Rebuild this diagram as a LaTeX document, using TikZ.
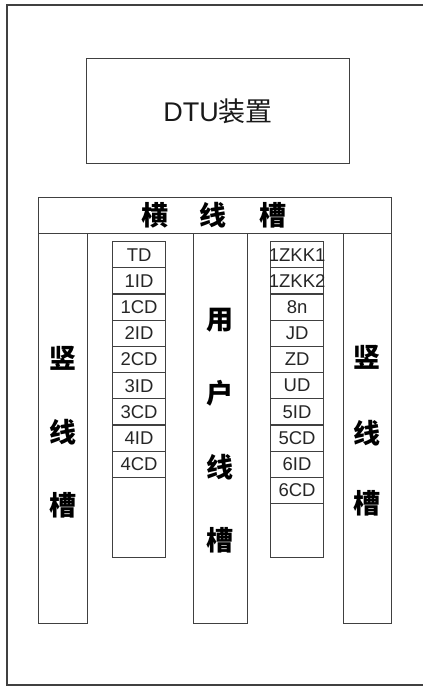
\documentclass[tikz,border=0pt]{standalone}
\usepackage{fontspec}
\setmainfont{Liberation Sans}
\newfontfamily\cjk{Noto Sans CJK SC}
\begin{document}
\begin{tikzpicture}[x=1pt,y=-1pt,
  line/.style={draw=black!75, line width=1.2pt},
  box/.style={line, rectangle, inner sep=0pt, anchor=north west},
  cell/.style={box, minimum width=53pt, minimum height=26.2pt, font=\fontsize{18.5}{18.5}\selectfont, text=black!85},
  slot/.style={font=\cjk\bfseries\fontsize{27}{27}\selectfont, inner sep=0pt}]
\useasboundingbox (0,0) rectangle (423,686);
% outer frame (open on the right)
\coordinate (tr) at (423,5);
\coordinate (tl) at (7,5);
\coordinate (bl) at (7,685);
\coordinate (br) at (423,685);
\draw[line] (tr) -- (tl) -- (bl) -- (br);
% DTU device
\node[box, minimum width=263pt, minimum height=105pt, font=\fontsize{27}{27}\selectfont, text=black!90] (dtu) at (86,58) {DTU{\cjk 装置}};
% horizontal trough
\node[box, minimum width=353pt, minimum height=36pt] (htrough) at (38,197) {};
\node[slot] (h1) at (155,215) {横};
\node[slot] (h2) at (213,215) {线};
\node[slot] (h3) at (273,215) {槽};
% vertical troughs
\node[box, minimum width=49pt, minimum height=390pt] (ltrough) at (38,233) {};
\node[box, minimum width=54pt, minimum height=390pt] (utrough) at (193,233) {};
\node[box, minimum width=48pt, minimum height=390pt] (rtrough) at (343,233) {};
\node[slot] (l1) at (62.5,358) {竖};
\node[slot] (l2) at (62.5,432) {线};
\node[slot] (l3) at (62.5,505) {槽};
\node[slot] (u1) at (220,320) {用};
\node[slot] (u2) at (220,393) {户};
\node[slot] (u3) at (220,467) {线};
\node[slot] (u4) at (220,540) {槽};
\node[slot] (r1) at (367,357) {竖};
\node[slot] (r2) at (367,433) {线};
\node[slot] (r3) at (367,503) {槽};
% left terminal strip
\foreach \t [count=\i] in {TD,1ID,1CD,2ID,2CD,3ID,3CD,4ID,4CD}
  \node[cell] (L\i) at (112,{241+26.2*(\i-1)}) {\makebox[0pt]{\t}};
\node[box, minimum width=53pt, minimum height=80.2pt] (Lend) at (112,476.8) {};
% right terminal strip
\foreach \t [count=\i] in {1ZKK1,1ZKK2,8n,JD,ZD,UD,5ID,5CD,6ID,6CD}
  \node[cell] (R\i) at (270,{241+26.2*(\i-1)}) {\makebox[0pt]{\t}};
\node[box, minimum width=53pt, minimum height=54pt] (Rend) at (270,503) {};
\end{tikzpicture}
\end{document}
